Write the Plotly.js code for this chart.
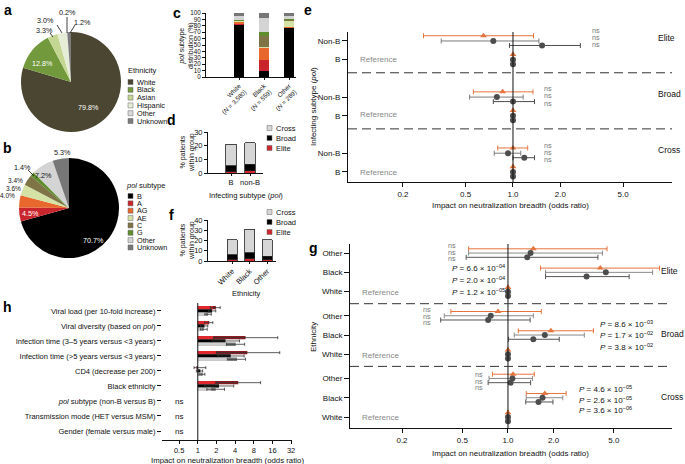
<!DOCTYPE html>
<html>
<head>
<meta charset="utf-8">
<script src="https://cdn.plot.ly/plotly-3.0.1.min.js"></script>
<style>
html,body{margin:0;padding:0;background:#fff;}
#chart{width:685px;height:464px;}
</style>
</head>
<body>
<div id="chart"></div>
<script>
// ================= DATA =================
// a: ethnicity (%)
const ethnicityLabels = ['White','Black','Asian','Hispanic','Other','Unknown'];
const ethnicityPct = [79.8, 12.8, 3.3, 3.0, 0.2, 1.2];
// b: pol subtype (%)
const subtypeLabels = ['B','A','AG','AE','C','G','Other','Unknown'];
const subtypePct = [70.7, 4.5, 4.0, 3.6, 3.4, 1.4, 7.2, 5.3];
// c: pol subtype distribution (%) per ethnicity
const cGroups = ['White<br>(<i>N</i> = 3,580)','Black<br>(<i>N</i> = 559)','Other<br>(<i>N</i> = 289)'];
const cB = [81, 9, 76];
const cA = [2, 17, 1];
const cAG = [2.5, 20, 1];
const cAE = [1.5, 1, 10];
const cC = [1, 17, 1];
const cG = [1, 7, 1];
const cOther = [6, 21, 6];
const cUnknown = [5, 8, 4];
// d: % patients within group by infecting subtype
const dGroups = ['B','non-B'];
const dElite = [1.0, 1.5];
const dBroad = [4.3, 5.0];
const dCross = [15.7, 15.5];
// f: % patients within group by ethnicity
const fGroups = ['White','Black','Other'];
const fElite = [1.5, 2.5, 1.0];
const fBroad = [4.5, 5.5, 3.5];
const fCross = [14.5, 23.0, 16.0];
// e: odds ratios, Non-B vs B (reference), per breadth group [Elite, Broad, Cross]
const eGroups = ['Elite','Broad','Cross'];
const eRows = ['Non-B','B'];
const eRef = 1;
const eOR1 = [0.65, 0.86, 1.00], eLo1 = [0.27, 0.56, 0.80], eHi1 = [1.35, 1.34, 1.24];
const eOR2 = [0.75, 0.79, 0.93], eLo2 = [0.35, 0.53, 0.76], eHi2 = [1.46, 1.16, 1.12];
const eOR3 = [1.53, 1.00, 1.18], eLo3 = [0.95, 0.75, 1.00], eHi3 = [2.68, 1.37, 1.37];
const eNote = ['ns','ns','ns'];
// g: odds ratios, [Other, Black] vs White (reference), per group [Elite, Broad, Cross]
const gGroups = ['Elite','Broad','Cross'];
const gRows = ['Other','Black','White'];
const gOR1 = [[1.47,4.06],[0.86,1.92],[1.08,1.75]];
const gLo1 = [[0.55,1.64],[0.42,1.17],[0.79,1.32]];
const gHi1 = [[4.5,10.0],[1.66,3.66],[1.49,2.42]];
const gOR2 = [[1.41,4.42],[0.77,1.75],[1.07,1.69]];
const gLo2 = [[0.55,1.77],[0.38,1.10],[0.75,1.32]];
const gHi2 = [[4.2,9.0],[1.47,3.19],[1.45,2.30]];
const gOR3 = [[1.34,3.3],[0.74,1.47],[1.04,1.59]];
const gLo3 = [[0.53,1.77],[0.36,1.01],[0.74,1.31]];
const gHi3 = [[3.92,6.3],[1.40,2.18],[1.41,1.98]];
const gBlackP = [[6.6e-4,2.0e-4,1.2e-5],[8.6e-3,1.7e-2,3.8e-2],[4.6e-5,2.6e-5,3.6e-6]];
// h: impact on neutralization breadth (odds ratio)
const hVars = ['Viral load (per 10-fold increase)','Viral diversity (based on <i>pol</i>)',
  'Infection time (3–5 years versus &lt;3 years)','Infection time (&gt;5 years versus &lt;3 years)',
  'CD4 (decrease per 200)','Black ethnicity','<i>pol</i> subtype (non-B versus B)',
  'Transmission mode (HET versus MSM)','Gender (female versus male)'];
const hElite      = [1.96, 1.53, 5.9, 6.3, 0.95, 4.5, null, null, null];
const hEliteInner = [1.75, 1.45, 1.82, 1.96, null, 1.89, null, null, null];
const hEliteLo    = [1.6, 1.3, 1.8, 2.0, 0.87, 2.0, null, null, null];
const hEliteHi    = [2.3, 1.75, 19.5, 21, 1.35, 10.3, null, null, null];
const hBroad      = [1.7, 1.28, 2.8, 3.4, 1.1, 2.2, null, null, null];
const hBroadLo    = [1.5, 1.1, 1.7, 2.1, 0.95, 1.3, null, null, null];
const hBroadHi    = [1.95, 1.45, 4.7, 5.6, 1.2, 3.8, null, null, null];
const hCross      = [1.47, 1.25, 4.1, 4.3, 1.2, 1.95, null, null, null];
const hCrossInner = [1.35, 1.15, 2.9, 3.1, 1.1, 1.64, null, null, null];
const hCrossLo    = [1.3, 1.1, 2.9, 3.0, 1.05, 1.4, null, null, null];
const hCrossHi    = [1.65, 1.42, 5.7, 5.9, 1.3, 2.7, null, null, null];
const hNote = ['','','','','','','ns','ns','ns'];

// ================= STYLE / LAYOUT HELPERS =================
const W = 685, H = 464;
const FONT = '"Liberation Sans", Arial, Helvetica, sans-serif';
const INK = '#111111';
const aColors = ['#4a4631','#72993c','#c3d692','#e5edd7','#d9d9d9','#7b7b7b'];
const bColors = ['#000000','#c9252c','#e8672c','#d4e2a6','#7e7446','#5f8d2e','#d4d4d4','#777777'];
const ELITE = '#d0262d', BROAD = '#000000', CROSS = '#d6d6d6';
const ORANGE = '#e5743d';
const DOT = '#4d4d4d';
const fx = p => p / W;
const fy = p => 1 - p / H;
const domX = (l, r) => [fx(l), fx(r)];
const domY = (t, b) => [fy(b), fy(t)];
const ann = [];
const shapes = [];
function T(x, y, text, o) {
  o = o || {};
  ann.push({xref:'paper', yref:'paper', x:fx(x), y:fy(y), text:text, showarrow:false,
    xanchor:o.xa || 'center', yanchor:o.ya || 'middle', textangle:o.ang || 0,
    font:{family:FONT, size:o.s || 8, color:o.c || INK}});
}
function L(x0, y0, x1, y1, color, width, dash) {
  shapes.push({type:'line', xref:'paper', yref:'paper', x0:fx(x0), y0:fy(y0), x1:fx(x1), y1:fy(y1),
    line:{color:color || INK, width:width || 0.8, dash:dash || 'solid'}});
}
function SQ(x, y, color) {
  shapes.push({type:'rect', xref:'paper', yref:'paper', x0:fx(x), x1:fx(x + 5), y0:fy(y + 2.5), y1:fy(y - 2.5),
    fillcolor:color, line:{color:'#666', width:0.5}});
}
const tf = s => ({family:FONT, size:s, color:INK});
const axBase = {showgrid:false, zeroline:false, showline:true, linecolor:INK, linewidth:1,
  ticks:'outside', ticklen:3, tickwidth:1, tickcolor:INK, fixedrange:true, tickfont:tf(7)};

const traces = [];

// ---------- a: pie ----------
traces.push({type:'pie', labels:ethnicityLabels, values:ethnicityPct, sort:false, direction:'clockwise', rotation:0,
  domain:{x:domX(21,121), y:domY(32,132)}, textinfo:'none', hoverinfo:'none',
  marker:{colors:aColors, line:{width:0}}, showlegend:false});
const aLabelPos = [[88,108,'#fff'],[42,63,'#fff'],[44,30,INK],[45,21,INK],[67,12.5,INK],[82,22,INK]];
ethnicityPct.forEach((v,i) => T(aLabelPos[i][0], aLabelPos[i][1], v.toFixed(1) + '%', {s:7.2, c:aLabelPos[i][2]}));
L(50,33,53,37); L(57,25,62,33); L(67,17,67,33); L(75,25,70,33);
T(126, 71, 'Ethnicity', {xa:'left', s:7.5});
ethnicityLabels.forEach((lab,i) => { SQ(128, 82 + 7.8*i, aColors[i]); T(135, 82 + 7.8*i, lab, {xa:'left', s:7.3}); });

// ---------- b: pie ----------
traces.push({type:'pie', labels:subtypeLabels, values:subtypePct, sort:false, direction:'clockwise', rotation:0,
  domain:{x:domX(19,119), y:domY(158,258)}, textinfo:'none', hoverinfo:'none',
  marker:{colors:bColors, line:{width:0}}, showlegend:false});
const bLabelPos = [[93,240,'#fff'],[30,213,'#fff'],[7,195.5,INK],[13,188,INK],[15,180.5,INK],[22,167,INK],[43,175,INK],[62,152,INK]];
subtypePct.forEach((v,i) => T(bLabelPos[i][0], bLabelPos[i][1], v.toFixed(1) + '%', {s:i >= 2 && i <= 4 ? 6.5 : 7.2, c:bLabelPos[i][2]}));
L(28,170,34,176);
T(124, 185, '<i>pol</i> subtype', {xa:'left', s:7.5});
subtypeLabels.forEach((lab,i) => { SQ(128, 196 + 7.35*i, bColors[i]); T(135, 196 + 7.35*i, lab, {xa:'left', s:7.3}); });

// ---------- c: stacked bars ----------
[cB, cA, cAG, cAE, cC, cG, cOther, cUnknown].forEach((arr,i) => {
  traces.push({type:'bar', x:cGroups, y:arr, xaxis:'x', yaxis:'y', width:0.4, name:subtypeLabels[i],
    marker:{color:bColors[i], line:{width:0}}, hoverinfo:'none', showlegend:false});
});
T(187, 45, '<i>pol</i> subtype<br>distribution (%)', {ang:-90, s:7});

// ---------- d ----------
[[dElite,ELITE],[dBroad,BROAD],[dCross,CROSS]].forEach(p => {
  traces.push({type:'bar', x:dGroups, y:p[0], xaxis:'x2', yaxis:'y2', width:0.55,
    marker:{color:p[1], line:{width:0.8, color:'#222'}}, hoverinfo:'none', showlegend:false});
});
T(187, 152, '% patients<br>within group', {ang:-90, s:7});
T(246, 195, 'Infecting subtype (<i>pol</i>)', {s:7.5});
[['Cross',CROSS,128],['Broad',BROAD,138],['Elite',ELITE,148]].forEach(l => { SQ(267,l[2],l[1]); T(274,l[2],l[0],{xa:'left',s:7.5}); });

// ---------- f ----------
[[fElite,ELITE],[fBroad,BROAD],[fCross,CROSS]].forEach(p => {
  traces.push({type:'bar', x:fGroups, y:p[0], xaxis:'x3', yaxis:'y3', width:0.57,
    marker:{color:p[1], line:{width:0.8, color:'#222'}}, hoverinfo:'none', showlegend:false});
});
T(187, 240, '% patients<br>within group', {ang:-90, s:7});
T(246, 293, 'Ethnicity', {s:7.5});
[['Cross',CROSS,212],['Broad',BROAD,222],['Elite',ELITE,232]].forEach(l => { SQ(267,l[2],l[1]); T(274,l[2],l[0],{xa:'left',s:7.5}); });

// ---------- e: forest plot ----------
const eSeries = [
  {or:eOR1, lo:eLo1, hi:eHi1, sym:'triangle-up', mc:ORANGE, ec:ORANGE, off:-0.28},
  {or:eOR2, lo:eLo2, hi:eHi2, sym:'circle', mc:DOT, ec:'#7a7a7a', off:0},
  {or:eOR3, lo:eLo3, hi:eHi3, sym:'circle', mc:DOT, ec:'#4d4d4d', off:0.24}
];
eSeries.forEach(s => {
  const x = [], y = [], ep = [], em = [];
  eGroups.forEach((g,gi) => {
    x.push(s.or[gi]); y.push(gi*3 + s.off); ep.push(s.hi[gi] - s.or[gi]); em.push(s.or[gi] - s.lo[gi]);
    x.push(eRef); y.push(gi*3 + 1 + s.off); ep.push(0); em.push(0);
  });
  traces.push({type:'scatter', mode:'markers', x:x, y:y, xaxis:'x4', yaxis:'y4', hoverinfo:'none', showlegend:false,
    marker:{symbol:s.sym, size:6, color:s.mc},
    error_x:{type:'data', symmetric:false, array:ep, arrayminus:em, color:s.ec, thickness:1, width:2.5}});
});
shapes.push({type:'line', xref:'x4', yref:'y4 domain', x0:1, x1:1, y0:0, y1:1, line:{color:INK, width:1}});
[1.7, 4.7].forEach(v => shapes.push({type:'line', xref:'x4 domain', yref:'y4', x0:0, x1:1, y0:v, y1:v, line:{color:'#333', width:1, dash:'9px,5px'}}));
const eGroupLabelY = [38, 94, 150];
eGroups.forEach((g,gi) => T(656, eGroupLabelY[gi], g, {xa:'left', s:8.5}));
[59, 115, 172].forEach(y => T(358, y, 'Reference', {xa:'left', s:8, c:'#888'}));
const eNsPos = [[590,31],[542,89],[542,145]];
eNote.forEach((n,gi) => [0,7,14].forEach(d => T(eNsPos[gi][0], eNsPos[gi][1] + d, n, {xa:'left', s:7.2, c:'#777'})));
T(313, 107, 'Infecting subtype (<i>pol</i>)', {ang:-90, s:8});
T(510, 205, 'Impact on neutralization breadth (odds ratio)', {s:8});

// ---------- g: forest plot ----------
const gStep = 3.25;
const gSeries = [
  {or:gOR1, lo:gLo1, hi:gHi1, sym:'triangle-up', mc:ORANGE, ec:ORANGE, off:-0.22},
  {or:gOR2, lo:gLo2, hi:gHi2, sym:'circle', mc:DOT, ec:'#8a8a8a', off:0},
  {or:gOR3, lo:gLo3, hi:gHi3, sym:'circle', mc:DOT, ec:'#555', off:0.22}
];
gSeries.forEach(s => {
  const x = [], y = [], ep = [], em = [];
  gGroups.forEach((g,gi) => {
    [0,1].forEach(r => {
      x.push(s.or[gi][r]); y.push(gi*gStep + r + s.off);
      ep.push(s.hi[gi][r] - s.or[gi][r]); em.push(s.or[gi][r] - s.lo[gi][r]);
    });
    x.push(eRef); y.push(gi*gStep + 2 + s.off); ep.push(0); em.push(0);
  });
  traces.push({type:'scatter', mode:'markers', x:x, y:y, xaxis:'x5', yaxis:'y5', hoverinfo:'none', showlegend:false,
    marker:{symbol:s.sym, size:6, color:s.mc},
    error_x:{type:'data', symmetric:false, array:ep, arrayminus:em, color:s.ec, thickness:1, width:2.5}});
});
shapes.push({type:'line', xref:'x5', yref:'y5 domain', x0:1, x1:1, y0:0, y1:1, line:{color:INK, width:1}});
[2.625, 5.875].forEach(v => shapes.push({type:'line', xref:'x5 domain', yref:'y5', x0:0, x1:1, y0:v, y1:v, line:{color:'#333', width:1, dash:'9px,5px'}}));
const gGroupLabelY = [271, 334, 397];
gGroups.forEach((g,gi) => T(659, gGroupLabelY[gi], g, {xa:'left', s:8.5}));
[292, 355, 417].forEach(y => T(360, y, 'Reference', {xa:'left', s:8, c:'#888'}));
const gNsPos = [[458,245],[433,309],[485,374]];
gNsPos.forEach(p => [0,7,13].forEach(d => T(p[0], p[1] + d, 'ns', {xa:'right', s:7.2, c:'#777'})));
function fmtP(p) {
  const e = Math.floor(Math.log10(p) + 1e-9);
  const m = p / Math.pow(10, e);
  const es = (e < 0 ? '−' : '') + String(Math.abs(e)).padStart(2, '0');
  return '<i>P</i> = ' + m.toFixed(1) + ' × 10<sup>' + es + '</sup>';
}
const gPPos = [[450,[268,280,292]],[598,[324,335,347]],[577,[389,400,410]]];
gBlackP.forEach((ps,gi) => ps.forEach((p,k) => T(gPPos[gi][0], gPPos[gi][1][k], fmtP(p), {xa:'left', s:8})));
T(313, 337, 'Ethnicity', {ang:-90, s:8});
T(510, 453, 'Impact on neutralization breadth (odds ratio)', {s:8});

// ---------- h: horizontal bars ----------
function barLines(vals, off, color) {
  const x = [], y = [];
  vals.forEach((v,i) => { if (v !== null) { x.push(1, v, null); y.push(i + off, i + off, null); } });
  traces.push({type:'scatter', mode:'lines', x:x, y:y, xaxis:'x6', yaxis:'y6', hoverinfo:'none', showlegend:false,
    line:{color:color, width:3.3}});
}
function barErr(vals, lo, hi, off) {
  const x = [], y = [], ep = [], em = [];
  vals.forEach((v,i) => { if (v !== null) { x.push(v); y.push(i + off); ep.push(hi[i] - v); em.push(v - lo[i]); } });
  traces.push({type:'scatter', mode:'markers', x:x, y:y, xaxis:'x6', yaxis:'y6', hoverinfo:'none', showlegend:false,
    marker:{size:1, color:'rgba(0,0,0,0)'},
    error_x:{type:'data', symmetric:false, array:ep, arrayminus:em, color:'#333', thickness:0.8, width:1.5}});
}
barLines(hElite, -0.22, '#8e1b1f'); barLines(hEliteInner, -0.22, '#e0282e');
barLines(hBroad, 0, BROAD);
barLines(hCross, 0.22, '#7f7f7f'); barLines(hCrossInner, 0.22, '#cfcfcf');
barErr(hElite, hEliteLo, hEliteHi, -0.22);
barErr(hBroad, hBroadLo, hBroadHi, 0);
barErr(hCross, hCrossLo, hCrossHi, 0.22);
shapes.push({type:'line', xref:'x6', yref:'y6 domain', x0:1, x1:1, y0:0, y1:1, line:{color:INK, width:1}});
hNote.forEach((n,i) => { if (n) T(179, 311 + 15*i, n, {s:8}); });
T(227, 460, 'Impact on neutralization breadth (odds ratio)', {s:7.8});

// ---------- panel letters ----------
[['a',8,10],['b',8,148],['c',177,13],['d',171,120],['e',308,10],['f',171,215],['g',313,248],['h',8,307]]
  .forEach(l => T(l[1], l[2], '<b>' + l[0] + '</b>', {s:14, c:'#000'}));

// ================= LAYOUT =================
const layout = {
  width:W, height:H, margin:{l:0, r:0, t:0, b:0}, paper_bgcolor:'#fff', plot_bgcolor:'rgba(0,0,0,0)',
  barmode:'stack', showlegend:false, hovermode:false, font:{family:FONT, color:INK},
  xaxis: Object.assign({}, axBase, {domain:domX(206,296), anchor:'y', type:'category', range:[-1.32,2.28], tickangle:-45, ticklen:2, tickfont:tf(6.3)}),
  yaxis: Object.assign({}, axBase, {domain:domY(13,77), anchor:'x', range:[0,100], dtick:10, tickfont:tf(6.3)}),
  xaxis2: Object.assign({}, axBase, {domain:domX(208,263), anchor:'y2', type:'category', range:[-1.21,1.68], ticklen:2, tickfont:tf(7.5)}),
  yaxis2: Object.assign({}, axBase, {domain:domY(132,173), anchor:'x2', range:[0,30], dtick:10, tickfont:tf(7.5)}),
  xaxis3: Object.assign({}, axBase, {domain:domX(208,276), anchor:'y3', type:'category', range:[-1.37,2.51], tickangle:-45, ticklen:2, tickfont:tf(7.5)}),
  yaxis3: Object.assign({}, axBase, {domain:domY(220,261), anchor:'x3', range:[0,40], dtick:10, tickfont:tf(7.5)}),
  xaxis4: Object.assign({}, axBase, {domain:domX(348,672), anchor:'y4', type:'log', range:[-1.048,1.01], ticklen:4,
    tickvals:[0.2,0.5,1,2,5], ticktext:['0.2','0.5','1.0','2.0','5.0'], tickfont:tf(8)}),
  yaxis4: Object.assign({}, axBase, {domain:domY(32,182), anchor:'x4', range:[7.54,-0.48], ticklen:5,
    tickvals:[0,1,3,4,6,7], ticktext:[eRows[0],eRows[1],eRows[0],eRows[1],eRows[0],eRows[1]], tickfont:tf(8)}),
  xaxis5: Object.assign({}, axBase, {domain:domX(350,672), anchor:'y5', type:'log', range:[-1.042,1.082], ticklen:4,
    tickvals:[0.2,0.5,1,2,5], ticktext:['0.2','0.5','1.0','2.0','5.0'], tickfont:tf(8)}),
  yaxis5: Object.assign({}, axBase, {domain:domY(244,428), anchor:'x5', range:[9.07,-0.47], ticklen:5,
    tickvals:[0,1,2,3.25,4.25,5.25,6.5,7.5,8.5], ticktext:gRows.concat(gRows, gRows), tickfont:tf(8)}),
  xaxis6: Object.assign({}, axBase, {domain:domX(162,292), anchor:'y6', type:'log', range:[-0.577,1.52], ticklen:3,
    tickvals:[0.5,1,2,4,8,16,32], ticktext:['0.5','1','2','4','8','16','32'], tickfont:tf(7.5)}),
  yaxis6: Object.assign({}, axBase, {domain:domY(303,440), anchor:'x6', range:[8.6,-0.53], showline:false, ticklen:4,
    tickvals:[0,1,2,3,4,5,6,7,8], ticktext:hVars, tickfont:tf(7.5)}),
  annotations: ann,
  shapes: shapes
};

Plotly.newPlot('chart', traces, layout, {staticPlot:true, displayModeBar:false});
</script>
</body>
</html>
